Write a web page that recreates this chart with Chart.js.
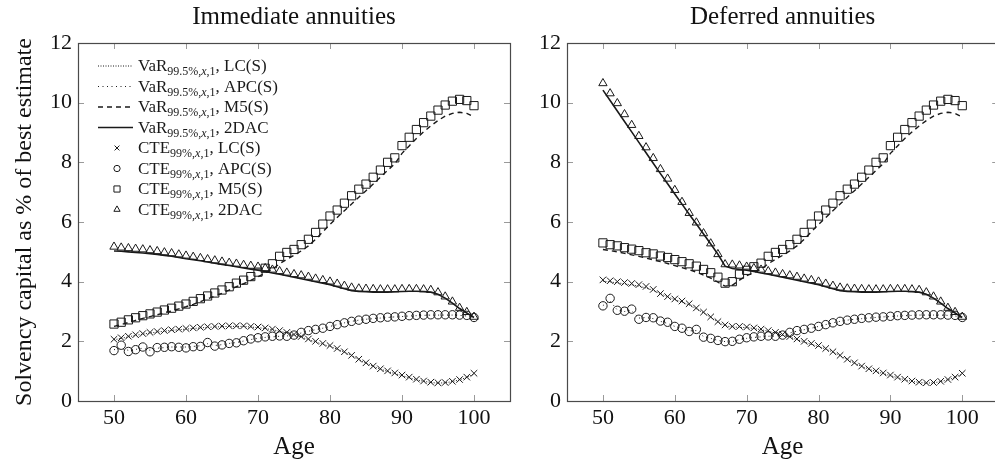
<!DOCTYPE html>
<html>
<head>
<meta charset="utf-8">
<script src="https://cdn.jsdelivr.net/npm/chart.js@4.4.0/dist/chart.umd.min.js"></script>
<style>
  html, body { margin: 0; padding: 0; background: #fff; overflow: hidden; }
  body { width: 995px; height: 465px; position: relative; }
  .panel { position: absolute; top: 0; height: 465px; }
  #left { left: 0; width: 520px; }
  #right { left: 520px; width: 485px; }
</style>
</head>
<body>
<div class="panel" id="left"><canvas id="immediate"></canvas></div>
<div class="panel" id="right"><canvas id="deferred"></canvas></div>
<script>
// ages on the x axis
var ages = [50,51,52,53,54,55,56,57,58,59,60,61,62,63,64,65,66,67,68,69,70,71,72,73,74,75,
            76,77,78,79,80,81,82,83,84,85,86,87,88,89,90,91,92,93,94,95,96,97,98,99,100];
var xTicks = [50, 60, 70, 80, 90, 100];
var yTicks = [0, 2, 4, 6, 8, 10, 12];

// --- Immediate annuities ---
var imVarLC = [2.05,2.1,2.15,2.2,2.24,2.28,2.31,2.34,2.37,2.39,2.41,2.43,2.45,2.47,2.48,2.49,2.5,2.5,2.5,2.48,
  2.46,2.43,2.39,2.34,2.28,2.21,2.14,2.06,1.98,1.9,1.83,1.74,1.64,1.52,1.39,1.27,1.16,1.07,0.99,0.92,
  0.85,0.78,0.71,0.66,0.62,0.6,0.61,0.65,0.71,0.79,0.9];
var imVarAPC = [1.72,1.76,1.7,1.73,1.77,1.7,1.77,1.79,1.81,1.81,1.81,1.83,1.85,1.92,1.86,1.89,1.93,1.96,2.01,2.06,
  2.1,2.13,2.15,2.17,2.18,2.21,2.28,2.34,2.39,2.44,2.5,2.56,2.62,2.67,2.71,2.74,2.76,2.78,2.8,2.82,
  2.83,2.85,2.86,2.87,2.88,2.88,2.88,2.88,2.87,2.85,2.8];
var imVarM5 = [2.5,2.56,2.63,2.7,2.77,2.83,2.89,2.96,3.02,3.09,3.16,3.24,3.33,3.42,3.52,3.61,3.72,3.83,3.93,4.04,
  4.17,4.29,4.42,4.6,4.75,4.88,5.03,5.2,5.42,5.67,5.92,6.15,6.38,6.6,6.83,7.05,7.27,7.5,7.73,7.95,
  8.3,8.55,8.8,9.02,9.22,9.4,9.55,9.64,9.68,9.64,9.52];
var imVar2DAC = [5.03,5.02,5.0,4.98,4.96,4.94,4.91,4.88,4.85,4.81,4.77,4.74,4.7,4.66,4.62,4.58,4.54,4.5,4.46,4.42,
  4.38,4.34,4.29,4.25,4.2,4.15,4.1,4.05,4.0,3.95,3.9,3.83,3.76,3.7,3.67,3.66,3.65,3.65,3.65,3.66,
  3.67,3.68,3.68,3.67,3.65,3.58,3.45,3.28,3.1,2.95,2.8];
var imCteLC = [2.07,2.12,2.17,2.22,2.26,2.3,2.33,2.36,2.39,2.41,2.43,2.45,2.47,2.49,2.5,2.51,2.52,2.52,2.52,2.5,
  2.48,2.45,2.41,2.36,2.3,2.23,2.16,2.08,2.0,1.93,1.86,1.76,1.65,1.53,1.4,1.28,1.17,1.08,1.01,0.94,
  0.87,0.8,0.73,0.67,0.63,0.61,0.62,0.66,0.72,0.8,0.93];
var imCteAPC = [1.69,1.87,1.66,1.72,1.81,1.65,1.79,1.8,1.82,1.8,1.78,1.82,1.83,1.96,1.84,1.88,1.93,1.95,2.02,2.08,
  2.12,2.15,2.17,2.18,2.17,2.21,2.3,2.36,2.4,2.44,2.5,2.56,2.62,2.67,2.71,2.74,2.77,2.79,2.81,2.82,
  2.84,2.86,2.87,2.88,2.89,2.89,2.89,2.89,2.88,2.87,2.8];
var imCteM5 = [2.58,2.64,2.72,2.79,2.86,2.92,2.98,3.05,3.11,3.18,3.25,3.34,3.43,3.52,3.62,3.72,3.83,3.95,4.05,4.17,
  4.32,4.45,4.6,4.85,4.98,5.08,5.24,5.42,5.65,5.93,6.2,6.4,6.63,6.88,7.1,7.27,7.5,7.74,8.0,8.15,
  8.56,8.84,9.1,9.33,9.55,9.75,9.92,10.05,10.11,10.07,9.9];
var imCte2DAC = [5.17,5.14,5.12,5.1,5.08,5.05,5.02,4.98,4.95,4.91,4.87,4.83,4.79,4.75,4.71,4.67,4.63,4.6,4.56,4.53,
  4.5,4.45,4.4,4.35,4.3,4.25,4.21,4.16,4.1,4.05,4.0,3.93,3.86,3.8,3.77,3.76,3.75,3.74,3.74,3.74,
  3.75,3.75,3.75,3.74,3.72,3.64,3.5,3.33,3.12,2.98,2.82];

// --- Deferred annuities ---
var dfVarLC = [4.02,3.99,3.96,3.93,3.89,3.85,3.79,3.71,3.6,3.49,3.4,3.32,3.22,3.09,2.95,2.8,2.64,2.52,2.48,2.47,
  2.46,2.43,2.39,2.34,2.28,2.21,2.14,2.06,1.98,1.9,1.83,1.74,1.64,1.52,1.39,1.27,1.16,1.07,0.99,0.92,
  0.85,0.78,0.71,0.66,0.62,0.6,0.61,0.65,0.71,0.79,0.9];
var dfVarAPC = [3.2,3.35,3.05,3.0,3.03,2.78,2.8,2.76,2.67,2.6,2.5,2.44,2.35,2.36,2.16,2.1,2.03,1.99,1.99,2.06,
  2.1,2.13,2.15,2.17,2.18,2.21,2.28,2.34,2.39,2.44,2.5,2.56,2.62,2.67,2.71,2.74,2.76,2.78,2.8,2.82,
  2.83,2.85,2.86,2.87,2.88,2.88,2.88,2.88,2.87,2.85,2.8];
var dfVarM5 = [5.08,5.04,5.0,4.95,4.9,4.85,4.79,4.73,4.67,4.61,4.54,4.47,4.4,4.32,4.22,4.12,3.98,3.85,3.88,4.05,
  4.2,4.3,4.42,4.6,4.75,4.88,5.03,5.2,5.42,5.67,5.92,6.15,6.38,6.6,6.83,7.05,7.27,7.5,7.73,7.95,
  8.3,8.55,8.8,9.02,9.22,9.4,9.55,9.64,9.68,9.64,9.52];
var dfVar2DAC = [10.42,10.07,9.72,9.37,9.02,8.67,8.32,7.97,7.62,7.28,6.94,6.6,6.26,5.93,5.6,5.26,4.92,4.52,4.44,4.41,
  4.38,4.34,4.29,4.25,4.2,4.15,4.1,4.05,4.0,3.95,3.9,3.83,3.76,3.7,3.67,3.66,3.65,3.65,3.65,3.66,
  3.67,3.68,3.68,3.67,3.65,3.58,3.45,3.28,3.1,2.95,2.8];
var dfCteLC = [4.06,4.03,4.0,3.97,3.94,3.9,3.84,3.74,3.6,3.5,3.42,3.35,3.26,3.12,2.98,2.82,2.66,2.55,2.5,2.5,
  2.48,2.45,2.41,2.36,2.3,2.23,2.16,2.08,2.0,1.93,1.86,1.76,1.65,1.53,1.4,1.28,1.17,1.08,1.01,0.94,
  0.87,0.8,0.73,0.67,0.63,0.61,0.62,0.66,0.72,0.8,0.93];
var dfCteAPC = [3.19,3.44,3.04,3.01,3.08,2.74,2.8,2.79,2.68,2.64,2.5,2.44,2.33,2.4,2.14,2.1,2.03,1.99,2.0,2.07,
  2.12,2.15,2.17,2.18,2.17,2.21,2.3,2.36,2.4,2.44,2.5,2.56,2.62,2.67,2.71,2.74,2.77,2.79,2.81,2.82,
  2.84,2.86,2.87,2.88,2.89,2.89,2.89,2.89,2.88,2.87,2.8];
var dfCteM5 = [5.3,5.24,5.2,5.14,5.09,5.04,4.97,4.93,4.86,4.81,4.74,4.67,4.6,4.52,4.41,4.3,4.15,3.95,4.0,4.25,
  4.38,4.5,4.62,4.85,4.98,5.08,5.24,5.42,5.65,5.93,6.2,6.4,6.63,6.88,7.1,7.27,7.5,7.74,8.0,8.15,
  8.56,8.84,9.1,9.33,9.55,9.75,9.92,10.05,10.11,10.07,9.9];
var dfCte2DAC = [10.65,10.31,9.98,9.61,9.25,8.88,8.5,8.14,7.77,7.45,7.07,6.67,6.3,5.98,5.62,5.28,4.92,4.58,4.57,4.54,
  4.5,4.45,4.4,4.35,4.3,4.25,4.21,4.16,4.1,4.05,4.0,3.93,3.86,3.8,3.77,3.76,3.75,3.74,3.74,3.74,
  3.75,3.75,3.75,3.74,3.72,3.64,3.5,3.33,3.12,2.98,2.82];

var models = ['LC(S)', 'APC(S)', 'M5(S)', '2DAC'];

Chart.defaults.font.family = '"Liberation Serif", "Times New Roman", serif';
Chart.defaults.color = '#111';

var INK = '#1a1a1a';
var FONT = '"Liberation Serif", serif';

// styles for the four VaR lines and four CTE markers
var lineStyles = [
  { dash: [1, 1.5], width: 1 },
  { dash: [1, 3.5], width: 1 },
  { dash: [5, 4], width: 1.4 },
  { dash: [], width: 1.6 }
];
var markerStyles = [
  { style: 'crossRot', radius: 4.6 },
  { style: 'circle', radius: 4.2 },
  { style: 'rect', radius: 5.8 },
  { style: 'triangle', radius: 4.8 }
];

function toXY(values) {
  return values.map(function (v, i) { return { x: ages[i], y: v }; });
}

function buildDatasets(varSeries, cteSeries) {
  var sets = [];
  varSeries.forEach(function (vals, i) {
    sets.push({
      label: 'VaR ' + models[i],
      data: toXY(vals),
      borderColor: INK,
      borderWidth: lineStyles[i].width,
      borderDash: lineStyles[i].dash,
      pointRadius: 0,
      tension: 0,
      fill: false
    });
  });
  cteSeries.forEach(function (vals, i) {
    sets.push({
      label: 'CTE ' + models[i],
      data: toXY(vals),
      showLine: false,
      pointStyle: markerStyles[i].style,
      pointRadius: markerStyles[i].radius,
      pointBorderColor: INK,
      pointBackgroundColor: 'rgba(0,0,0,0)',
      pointBorderWidth: 1,
      pointHoverRadius: markerStyles[i].radius
    });
  });
  return sets;
}

// box around plot area with inward ticks on all four sides
var framePlugin = {
  id: 'frame',
  afterDatasetsDraw: function (chart) {
    var a = chart.chartArea, ctx = chart.ctx;
    var xs = chart.scales.x, ys = chart.scales.y;
    ctx.save();
    ctx.strokeStyle = '#9a9a9a';
    ctx.lineWidth = 1;
    ctx.beginPath();
    xs.ticks.forEach(function (t) {
      var px = Math.round(xs.getPixelForValue(t.value)) + 0.5;
      ctx.moveTo(px, a.top); ctx.lineTo(px, a.top + 6);
      ctx.moveTo(px, a.bottom); ctx.lineTo(px, a.bottom - 6);
    });
    ys.ticks.forEach(function (t) {
      var py = Math.round(ys.getPixelForValue(t.value)) + 0.5;
      ctx.moveTo(a.left, py); ctx.lineTo(a.left + 6, py);
      ctx.moveTo(a.right, py); ctx.lineTo(a.right - 6, py);
    });
    ctx.stroke();
    ctx.strokeStyle = '#4a4a4a';
    ctx.lineWidth = 1.2;
    ctx.strokeRect(Math.round(a.left) + 0.5, Math.round(a.top) + 0.5,
                   Math.round(a.right - a.left), Math.round(a.bottom - a.top));
    ctx.restore();
  }
};

function drawMarker(ctx, style, r, x, y) {
  ctx.beginPath();
  if (style === 'crossRot') {
    var d = r * 0.7;
    ctx.moveTo(x - d, y - d); ctx.lineTo(x + d, y + d);
    ctx.moveTo(x + d, y - d); ctx.lineTo(x - d, y + d);
  } else if (style === 'circle') {
    ctx.arc(x, y, r, 0, Math.PI * 2);
  } else if (style === 'rect') {
    var s = r * Math.SQRT1_2;
    ctx.rect(x - s, y - s, 2 * s, 2 * s);
  } else if (style === 'triangle') {
    ctx.moveTo(x, y - r);
    ctx.lineTo(x + r * 0.866, y + r * 0.5);
    ctx.lineTo(x - r * 0.866, y + r * 0.5);
    ctx.closePath();
  }
  ctx.stroke();
}

function drawLabel(ctx, x, y, measure, sub, model) {
  var parts = [
    { t: measure, f: '17px ' + FONT, dy: 0 },
    { t: sub, f: '12px ' + FONT, dy: 4 },
    { t: 'x', f: 'italic 12px ' + FONT, dy: 4 },
    { t: ',1', f: '12px ' + FONT, dy: 4 },
    { t: ', ' + model, f: '17px ' + FONT, dy: 0 }
  ];
  parts.forEach(function (p) {
    ctx.font = p.f;
    ctx.fillText(p.t, x, y + p.dy);
    x += ctx.measureText(p.t).width;
  });
}

// legend with subscripts, drawn in the upper left of the first panel
var legendPlugin = {
  id: 'subLegend',
  afterDraw: function (chart) {
    var ctx = chart.ctx;
    var x0 = 98, x1 = 133, tx = 138, top = 66, step = 20.5;
    ctx.save();
    ctx.fillStyle = INK;
    ctx.strokeStyle = INK;
    ctx.textBaseline = 'alphabetic';
    for (var i = 0; i < 8; i++) {
      var yc = top + i * step;
      var k = i % 4;
      if (i < 4) {
        ctx.lineWidth = lineStyles[k].width;
        ctx.setLineDash(lineStyles[k].dash);
        ctx.beginPath(); ctx.moveTo(x0, yc); ctx.lineTo(x1, yc); ctx.stroke();
        ctx.setLineDash([]);
        drawLabel(ctx, tx, yc + 5, 'VaR', '99.5%,', models[k]);
      } else {
        ctx.lineWidth = 1;
        drawMarker(ctx, markerStyles[k].style, markerStyles[k].radius * 0.75, 117, yc);
        drawLabel(ctx, tx, yc + 5, 'CTE', '99%,', models[k]);
      }
    }
    ctx.restore();
  }
};

function makePanel(canvasId, title, varSeries, cteSeries, isLeft) {
  var plugins = [framePlugin];
  if (isLeft) plugins.push(legendPlugin);
  return new Chart(document.getElementById(canvasId), {
    type: 'line',
    data: { datasets: buildDatasets(varSeries, cteSeries) },
    plugins: plugins,
    options: {
      responsive: true,
      maintainAspectRatio: false,
      animation: false,
      layout: { padding: { left: 0, right: isLeft ? 10 : 6, top: 0, bottom: 0 } },
      plugins: {
        legend: { display: false },
        tooltip: { enabled: false },
        title: {
          display: true,
          text: title,
          fullSize: false,
          color: '#111',
          font: { size: 25, weight: 'normal', lineHeight: 1.2 },
          padding: { top: 2, bottom: 11 }
        }
      },
      scales: {
        x: {
          type: 'linear',
          min: 45,
          max: 105,
          afterBuildTicks: function (scale) {
            scale.ticks = xTicks.map(function (v) { return { value: v }; });
          },
          afterFit: function (scale) { scale.height = 64; },
          grid: { display: false, drawTicks: false },
          border: { display: false },
          ticks: { padding: 4, font: { size: 22 }, color: '#111', maxRotation: 0 },
          title: {
            display: true,
            text: 'Age',
            color: '#111',
            font: { size: 25, lineHeight: 1.2 },
            padding: { top: 0, bottom: 3 }
          }
        },
        y: {
          type: 'linear',
          min: 0,
          max: 12,
          afterBuildTicks: function (scale) {
            scale.ticks = yTicks.map(function (v) { return { value: v }; });
          },
          afterFit: function (scale) { scale.width = isLeft ? 78 : 47; },
          grid: { display: false, drawTicks: false },
          border: { display: false },
          ticks: { padding: 6, font: { size: 22 }, color: '#111' },
          title: {
            display: isLeft,
            text: 'Solvency capital as % of best estimate',
            color: '#111',
            font: { size: 24, lineHeight: 1.2 },
            padding: { top: 10, bottom: 0 }
          }
        }
      }
    }
  });
}

makePanel('immediate', 'Immediate annuities',
  [imVarLC, imVarAPC, imVarM5, imVar2DAC], [imCteLC, imCteAPC, imCteM5, imCte2DAC], true);
makePanel('deferred', 'Deferred annuities',
  [dfVarLC, dfVarAPC, dfVarM5, dfVar2DAC], [dfCteLC, dfCteAPC, dfCteM5, dfCte2DAC], false);
</script>
</body>
</html>
